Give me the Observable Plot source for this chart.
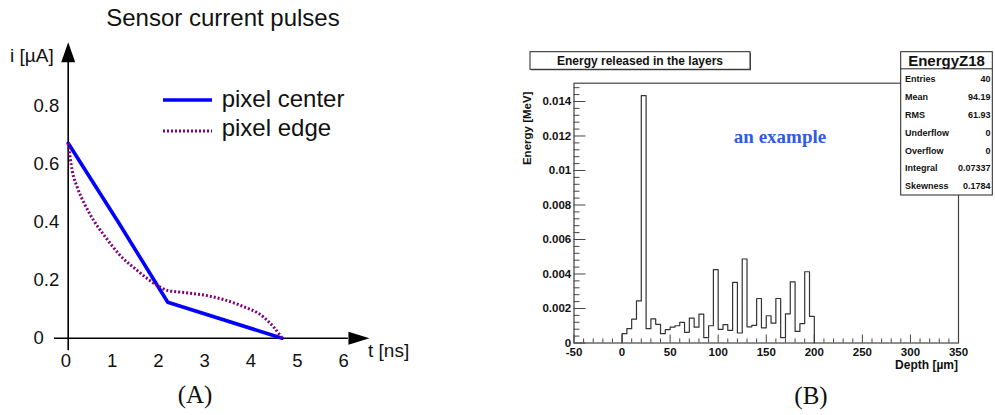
<!DOCTYPE html>
<html><head><meta charset="utf-8">
<script src="https://cdn.jsdelivr.net/npm/d3@7"></script>
<script src="https://cdn.jsdelivr.net/npm/@observablehq/plot@0.6"></script>
<style>
body{margin:0;background:#fff;}
#wrap{position:relative;width:995px;height:415px;overflow:hidden;background:#fff;}
#wrap > *{position:absolute;top:0;}
</style></head><body><div id="wrap"></div>
<script>
// ---------- Panel A data: sensor current pulses ----------
const timeTicks = [0, 1, 2, 3, 4, 5, 6];
const currentTicks = [0, 0.2, 0.4, 0.6, 0.8];
const centerTime = [0, 1.07, 2.15, 4.62];
const centerCurrent = [0.673, 0.404, 0.124, 0];
const edgeTime = [0, 0.086, 0.194, 0.352, 0.553, 0.806, 1.093, 1.49, 1.99, 2.14, 2.55, 3.0, 3.72, 4.22, 4.44, 4.62];
const edgeCurrent = [0.673, 0.579, 0.522, 0.464, 0.406, 0.349, 0.291, 0.234, 0.176, 0.165, 0.157, 0.147, 0.113, 0.073, 0.038, 0];
const seriesNames = ["pixel center", "pixel edge"];

// ---------- Panel B data: energy released in the layers ----------
const binStart = [0,5,10,15,20,25,30,35,40,45,50,55,60,65,70,75,80,85,90,95,
                  100,105,110,115,120,125,130,135,140,145,150,155,160,165,170,175,180,185,190,195];
const binWidth = 5;
const energy = [0.00054,0.00083,0.00138,0.00244,0.01434,0.00083,0.0014,0.00108,0.00054,0.00077,
                0.00092,0.001,0.00119,0.00062,0.00144,0.00092,0.00167,0.00031,0.001,0.00425,
                0.00079,0.00106,0.00073,0.00352,0.00058,0.00487,0.00094,0.00102,0.00258,0.00088,
                0.00158,0.00115,0.00258,0.00031,0.00169,0.00354,0.00067,0.00112,0.00413,0.00154];
const depthMajor = [-50, 0, 50, 100, 150, 200, 250, 300, 350];
const depthMinor = [-40,-30,-20,-10,10,20,30,40,60,70,80,90,110,120,130,140,160,170,180,190,
                    210,220,230,240,260,270,280,290,310,320,330,340];
const energyMajor = [0, 0.002, 0.004, 0.006, 0.008, 0.01, 0.012, 0.014];
const energyMinor = [0.0004,0.0008,0.0012,0.0016,0.0024,0.0028,0.0032,0.0036,0.0044,0.0048,0.0052,0.0056,
                     0.0064,0.0068,0.0072,0.0076,0.0084,0.0088,0.0092,0.0096,0.0104,0.0108,0.0112,0.0116,
                     0.0124,0.0128,0.0132,0.0136,0.0144,0.0148];
const statNames = ["Entries","Mean","RMS","Underflow","Overflow","Integral","Skewness"];
const statValues = ["40","94.19","61.93","0","0","0.07337","0.1784"];

const wrap = document.getElementById("wrap");
const dotted = "2,2";

// ---------- Panel A ----------
const center = centerTime.map((t, k) => ({t, i: centerCurrent[k]}));
const edge = edgeTime.map((t, k) => ({t, i: edgeCurrent[k]}));
const arrowUp = {draw(c) { c.moveTo(0, -10); c.lineTo(7, 10); c.lineTo(-7, 10); c.closePath(); }};
const arrowRight = {draw(c) { c.moveTo(10.5, 0); c.lineTo(-10.5, 6.5); c.lineTo(-10.5, -6.5); c.closePath(); }};

const plotA = Plot.plot({
  width: 420, height: 415,
  marginLeft: 67.7, marginRight: 74.5, marginTop: 106, marginBottom: 77.3,
  x: {domain: [0, 6]}, y: {domain: [0, 0.8]},
  style: {fontFamily: "Liberation Sans", fontSize: "18.5px", color: "#111", background: "transparent"},
  marks: [
    Plot.ruleY([0], {x1: -0.296, x2: 6.05, stroke: "#000", strokeWidth: 1.6}),
    Plot.ruleX([0], {y1: -0.043, y2: 0.96, stroke: "#000", strokeWidth: 1.6}),
    Plot.dot([{t: 6.28, i: 0}], {x: "t", y: "i", symbol: arrowRight, fill: "#000", stroke: "none", r: 5}),
    Plot.dot([{t: 0, i: 0.9876}], {x: "t", y: "i", symbol: arrowUp, fill: "#000", stroke: "none", r: 5}),
    Plot.line(center, {x: "t", y: "i", stroke: "#0000ff", strokeWidth: 3.6}),
    Plot.line(edge, {x: "t", y: "i", stroke: "#800080", strokeWidth: 3, strokeDasharray: dotted, strokeLinecap: "butt", curve: "monotone-x"}),
    Plot.axisX(timeTicks, {tickSize: 0, tickPadding: 15.5, dx: -2.4, label: null}),
    Plot.axisY(currentTicks, {tickSize: 0, tickPadding: 34.7, textAnchor: "start", tickFormat: d => d === 0 ? "0" : d.toFixed(1), label: null})
  ]
});
plotA.style.left = "0px";
wrap.appendChild(plotA);

// ---------- Panel B ----------
const steps = [{x: binStart[0], y: 0}]
  .concat(binStart.map((b, k) => ({x: b, y: energy[k]})))
  .concat([{x: binStart[binStart.length - 1] + binWidth, y: energy[energy.length - 1]},
           {x: binStart[binStart.length - 1] + binWidth, y: 0}]);
const bW = 475, bH = 415, bL = 53.5, bR = 37, bT = 82.7, bB = 72.5;
const fw = bW - bL - bR, fh = bH - bT - bB;
const plotB = Plot.plot({
  width: bW, height: bH,
  marginLeft: bL, marginRight: bR, marginTop: bT, marginBottom: bB,
  x: {domain: [-50, 350]}, y: {domain: [0, 0.01506]},
  style: {fontFamily: "Liberation Sans", fontSize: "11.5px", fontWeight: "bold", color: "#111", background: "transparent"},
  marks: [
    Plot.tickY(energyMinor, {insetRight: fw - 6, stroke: "#444"}),
    Plot.tickY(energyMajor, {insetRight: fw - 12, stroke: "#444"}),
    Plot.tickX(depthMinor, {insetTop: fh - 4, stroke: "#444"}),
    Plot.tickX(depthMajor, {insetTop: fh - 8, stroke: "#444"}),
    Plot.line(steps, {x: "x", y: "y", curve: "step-after", stroke: "#333", strokeWidth: 1.2}),
    Plot.frame({stroke: "#444", strokeWidth: 1.2}),
    Plot.axisX(depthMajor, {tickSize: 0, tickPadding: 5, tickFormat: d => String(d), label: null}),
    Plot.axisY(energyMajor, {tickSize: 0, tickPadding: 2.8, tickFormat: d => d === 0 ? "0" : String(+d.toFixed(3)), label: null})
  ]
});
plotB.style.left = "520px";
wrap.appendChild(plotB);

// ---------- Overlay annotations ----------
const svg = d3.select(wrap).append("svg").attr("width", 995).attr("height", 415)
  .style("left", "0px").style("pointer-events", "none");
const sans = "Liberation Sans", serif = "Liberation Serif";
function txt(x, y, s, o = {}) {
  const t = svg.append("text").attr("x", x).attr("y", y).text(s)
    .attr("font-family", o.family || sans).attr("font-size", o.size || 12)
    .attr("text-anchor", o.anchor || "start").attr("fill", o.fill || "#111");
  if (o.weight) t.attr("font-weight", o.weight);
  if (o.rotate) t.attr("transform", `rotate(${o.rotate},${x},${y})`);
  return t;
}
// Panel A texts
txt(223, 26, "Sensor current pulses", {size: 24, anchor: "middle"});
txt(10, 62.3, "i [µA]", {size: 19});
txt(368, 357, "t [ns]", {size: 19});
svg.append("line").attr("x1", 163).attr("x2", 212).attr("y1", 100).attr("y2", 100)
  .attr("stroke", "#0000ff").attr("stroke-width", 3.6);
svg.append("line").attr("x1", 163).attr("x2", 212).attr("y1", 131).attr("y2", 131)
  .attr("stroke", "#800080").attr("stroke-width", 3).attr("stroke-dasharray", dotted);
txt(221.7, 107, seriesNames[0], {size: 24});
txt(221.7, 135.5, seriesNames[1], {size: 24});
txt(195, 403, "(A)", {size: 25, family: serif, anchor: "middle"});
txt(811, 403.5, "(B)", {size: 25, family: serif, anchor: "middle"});

// Panel B texts
svg.append("rect").attr("x", 531).attr("y", 52.7).attr("width", 220).attr("height", 17.6).attr("fill", "#666");
svg.append("rect").attr("x", 530).attr("y", 51.7).attr("width", 220).attr("height", 17.6)
  .attr("fill", "#fff").attr("stroke", "#222").attr("stroke-width", 1);
txt(640, 64.5, "Energy released in the layers", {size: 12, weight: "bold", anchor: "middle"});
txt(531.5, 128.3, "Energy [MeV]", {size: 11.5, weight: "bold", anchor: "middle", rotate: -90});
txt(958, 368.5, "Depth  [µm]", {size: 12, weight: "bold", anchor: "end"});
txt(780, 143, "an example", {size: 19, weight: "bold", family: serif, anchor: "middle", fill: "#2f5be0"});

// stats box
svg.append("rect").attr("x", 900.7).attr("y", 51.7).attr("width", 91.6).attr("height", 143.3)
  .attr("fill", "#fff").attr("stroke", "#222").attr("stroke-width", 1);
svg.append("line").attr("x1", 900.7).attr("x2", 992.3).attr("y1", 68.8).attr("y2", 68.8)
  .attr("stroke", "#222").attr("stroke-width", 1);
txt(946.5, 65.5, "EnergyZ18", {size: 15, weight: "bold", anchor: "middle"});
statNames.forEach((n, k) => {
  const y = 82.3 + k * 17.8;
  txt(905, y, n, {size: 9, weight: "bold"});
  txt(990.5, y, statValues[k], {size: 9, weight: "bold", anchor: "end"});
});
</script></body></html>
